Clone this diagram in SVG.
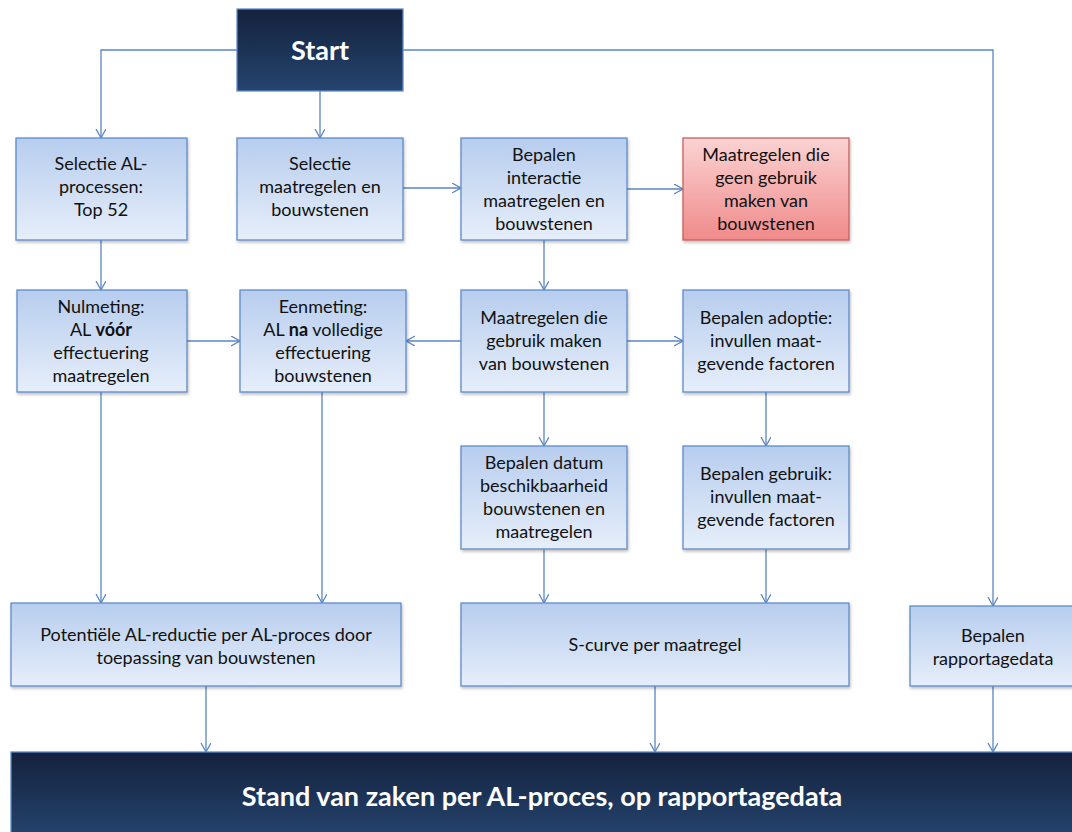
<svg xmlns="http://www.w3.org/2000/svg" width="1072" height="832" viewBox="0 0 1072 832">
<defs>
<linearGradient id="gBlue" x1="0" y1="0" x2="0" y2="1">
<stop offset="0" stop-color="#b7cdee"/>
<stop offset="1" stop-color="#e6eefa"/>
</linearGradient>
<linearGradient id="gRed" x1="0" y1="0" x2="0" y2="1">
<stop offset="0" stop-color="#fbd3d3"/>
<stop offset="1" stop-color="#f08a8a"/>
</linearGradient>
<linearGradient id="gDark" x1="0" y1="0" x2="0" y2="1">
<stop offset="0" stop-color="#14223d"/>
<stop offset="1" stop-color="#25446e"/>
</linearGradient>
<filter id="sh" x="-5%" y="-5%" width="115%" height="120%">
<feDropShadow dx="1" dy="2" stdDeviation="1.5" flood-color="#000" flood-opacity="0.25"/>
</filter>
<marker id="arr" markerUnits="userSpaceOnUse" markerWidth="12" markerHeight="12" refX="9" refY="5" orient="auto">
<path d="M0,0 L9,5 L0,10" fill="none" stroke="#5a86c3" stroke-width="1.3"/>
</marker>
</defs>
<style>
.box{fill:url(#gBlue);stroke:#5f8bc8;stroke-width:1.3;filter:url(#sh)}
.red{fill:url(#gRed);stroke:#c9605d;stroke-width:1.3;filter:url(#sh)}
.dark{fill:url(#gDark);stroke:#5f8bc8;stroke-width:1.3}
.t{font-family:Lato,"Liberation Sans",sans-serif;font-size:18px;fill:#111;text-anchor:middle}
.tw{font-family:Lato,"Liberation Sans",sans-serif;font-weight:bold;fill:#fff;text-anchor:middle}
.c{fill:none;stroke:#5a86c3;stroke-width:1.3;marker-end:url(#arr)}
b{font-weight:bold}
</style>
<rect width="1072" height="832" fill="#fff"/>

<g id="connectors">
<path class="c" d="M237,50 H101 V138"/>
<path class="c" d="M320,91 V138"/>
<path class="c" d="M403,50 H993 V606"/>
<path class="c" d="M403,188 H461"/>
<path class="c" d="M627,189 H683"/>
<path class="c" d="M544,240 V290"/>
<path class="c" d="M101,240 V290"/>
<path class="c" d="M187,341 H240"/>
<path class="c" d="M461,341 H406"/>
<path class="c" d="M627,341 H683"/>
<path class="c" d="M544,392 V446"/>
<path class="c" d="M766,392 V446"/>
<path class="c" d="M101,392 V603"/>
<path class="c" d="M322,392 V603"/>
<path class="c" d="M544,549 V603"/>
<path class="c" d="M766,549 V603"/>
<path class="c" d="M206,686 V752"/>
<path class="c" d="M655,686 V752"/>
<path class="c" d="M993,686 V752"/>
</g>

<g id="start">
<rect class="dark" x="237" y="9" width="166" height="82"/>
<text class="tw" x="320" y="60" font-size="27">Start</text>
</g>

<g id="selectie-al">
<rect class="box" x="16" y="138" width="171" height="102"/>
<text class="t" x="101" y="170">Selectie AL-</text>
<text class="t" x="101" y="193">processen:</text>
<text class="t" x="101" y="216">Top 52</text>
</g>

<g id="selectie-maatregelen">
<rect class="box" x="237" y="138" width="166" height="102"/>
<text class="t" x="320" y="170">Selectie</text>
<text class="t" x="320" y="193">maatregelen en</text>
<text class="t" x="320" y="216">bouwstenen</text>
</g>

<g id="bepalen-interactie">
<rect class="box" x="461" y="138" width="166" height="102"/>
<text class="t" x="544" y="161">Bepalen</text>
<text class="t" x="544" y="184">interactie</text>
<text class="t" x="544" y="207">maatregelen en</text>
<text class="t" x="544" y="230">bouwstenen</text>
</g>

<g id="geen-gebruik">
<rect class="red" x="683" y="138" width="166" height="102"/>
<text class="t" x="766" y="161">Maatregelen die</text>
<text class="t" x="766" y="184">geen gebruik</text>
<text class="t" x="766" y="207">maken van</text>
<text class="t" x="766" y="230">bouwstenen</text>
</g>

<g id="nulmeting">
<rect class="box" x="17" y="290" width="170" height="102"/>
<text class="t" x="101" y="313">Nulmeting:</text>
<text class="t" x="101" y="336">AL <tspan font-weight="bold">vóór</tspan></text>
<text class="t" x="101" y="359">effectuering</text>
<text class="t" x="101" y="382">maatregelen</text>
</g>

<g id="eenmeting">
<rect class="box" x="240" y="290" width="166" height="102"/>
<text class="t" x="323" y="313">Eenmeting:</text>
<text class="t" x="323" y="336">AL <tspan font-weight="bold">na</tspan> volledige</text>
<text class="t" x="323" y="359">effectuering</text>
<text class="t" x="323" y="382">bouwstenen</text>
</g>

<g id="gebruik-bouwstenen">
<rect class="box" x="461" y="290" width="166" height="102"/>
<text class="t" x="544" y="324">Maatregelen die</text>
<text class="t" x="544" y="347">gebruik maken</text>
<text class="t" x="544" y="370">van bouwstenen</text>
</g>

<g id="bepalen-adoptie">
<rect class="box" x="683" y="290" width="166" height="102"/>
<text class="t" x="766" y="324">Bepalen adoptie:</text>
<text class="t" x="766" y="347">invullen maat-</text>
<text class="t" x="766" y="370">gevende factoren</text>
</g>

<g id="bepalen-datum">
<rect class="box" x="461" y="446" width="166" height="103"/>
<text class="t" x="544" y="469">Bepalen datum</text>
<text class="t" x="544" y="492">beschikbaarheid</text>
<text class="t" x="544" y="515">bouwstenen en</text>
<text class="t" x="544" y="538">maatregelen</text>
</g>

<g id="bepalen-gebruik">
<rect class="box" x="683" y="446" width="166" height="103"/>
<text class="t" x="766" y="480">Bepalen gebruik:</text>
<text class="t" x="766" y="503">invullen maat-</text>
<text class="t" x="766" y="526">gevende factoren</text>
</g>

<g id="potentiele-reductie">
<rect class="box" x="11" y="603" width="390" height="83"/>
<text class="t" x="206" y="641">Potentiële AL-reductie per AL-proces door</text>
<text class="t" x="206" y="664">toepassing van bouwstenen</text>
</g>

<g id="s-curve">
<rect class="box" x="461" y="603" width="388" height="83"/>
<text class="t" x="655" y="651">S-curve per maatregel</text>
</g>

<g id="rapportagedata">
<rect class="box" x="910" y="606" width="166" height="80"/>
<text class="t" x="993" y="642">Bepalen</text>
<text class="t" x="993" y="665">rapportagedata</text>
</g>

<g id="stand-van-zaken">
<rect class="dark" x="11" y="752" width="1066" height="86"/>
<text class="tw" x="542" y="806" font-size="27">Stand van zaken per AL-proces, op rapportagedata</text>
</g>
</svg>
